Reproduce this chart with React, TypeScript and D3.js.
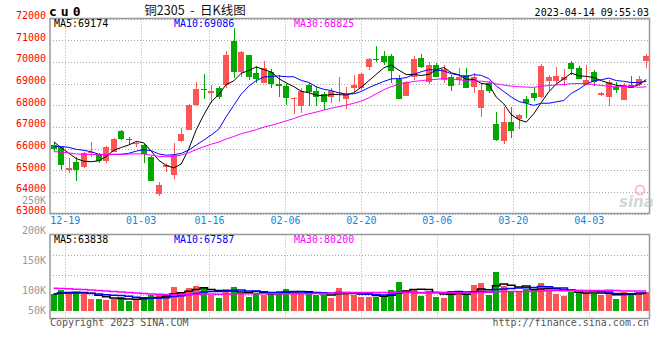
import React from 'react';
import * as d3 from 'd3';

// ---------- data ----------
const dates = [
  '12-15','12-16','12-19','12-20','12-21','12-22','12-23','12-26','12-27','12-28','12-29','12-30',
  '01-03','01-04','01-05','01-06','01-09','01-10','01-11','01-12','01-13','01-16','01-17','01-18','01-19','01-20','01-30','01-31',
  '02-01','02-02','02-03','02-06','02-07','02-08','02-09','02-10','02-13','02-14','02-15','02-16','02-17','02-20','02-21','02-22','02-23','02-24','02-27','02-28',
  '03-01','03-02','03-03','03-06','03-07','03-08','03-09','03-10','03-13','03-14','03-15','03-16','03-17','03-20','03-21','03-22','03-23','03-24','03-27','03-28','03-29','03-30','03-31',
  '04-03','04-04','04-06','04-07','04-10','04-11','04-12','04-13','04-14'
];
const tickDates = ['12-19','01-03','01-16','02-06','02-20','03-06','03-20','04-03'];

const opens = [
  66150,66050,65010,65400,65160,65780,65750,65440,65850,66820,66460,66190,66160,65590,63900,65160,64800,66350,66850,68000,
  68730,68550,68770,68930,70960,69540,70320,69500,69040,69540,69000,68880,68290,67960,68930,68670,68520,68360,68570,68280,
  68810,68780,69770,70140,70270,70270,69190,68420,69290,70190,69080,69850,69160,69310,69160,69390,68850,67890,69010,67130,
  66340,67240,67360,68280,68580,68360,69110,69110,69160,69960,69700,68950,69520,68470,68390,68850,68240,68930,68930,70060
];
const highs = [
  66300,66080,65560,65620,65850,66290,65800,66130,66500,66850,66520,66310,66200,65650,64440,65320,66240,66930,68050,69080,
  69440,68930,68880,70510,71550,70480,70320,69790,70040,69650,69390,69000,68390,68780,69010,68880,68620,68780,69290,68850,
  69390,69490,70200,70730,70500,70350,69390,69100,70250,70350,70000,69960,69850,69390,69700,69700,69470,69010,69100,67670,
  67930,67930,67600,68420,68780,69890,69390,69740,69670,70040,69810,69850,69630,68600,69180,69080,69010,69340,69340,70350
];
const lows = [
  65900,65000,64870,64520,65110,65620,65320,65320,65830,66400,66160,66080,65320,64510,63820,64930,64590,66290,66850,67950,
  68290,68090,68270,68780,69240,69310,69160,69010,69010,68800,68360,68020,67570,67650,67960,67960,67780,68090,68160,67810,
  68620,68700,69620,70010,69850,69040,68280,68420,69180,69720,68990,69290,69040,68670,68930,68770,68540,67470,68540,66350,
  66220,66470,66910,67390,68190,68320,68650,68960,68880,69390,69190,68930,68880,68420,67960,68540,68240,68770,68880,69700
];
const closes = [
  65960,65230,65100,65000,65780,65850,65440,66085,66440,66420,66420,66270,65750,64510,64320,65240,65700,66650,68010,68730,
  68680,68670,68390,70320,69540,70440,69310,69210,69700,69000,68900,68340,68340,68650,68620,68390,68160,68650,68620,68520,
  68930,69440,70120,70100,70010,69590,68280,69080,70130,69770,69850,69310,69650,68900,69310,68800,69310,68700,68670,66390,
  67240,66810,67550,68090,68320,69820,69290,69350,69290,69650,69190,69160,69080,68580,69080,68700,68930,68810,69210,70270
];
const volumes = [
  72700,91500,82800,78500,72700,52300,52300,48000,52300,59600,43600,48000,56700,69700,69700,69700,104600,79900,100300,109000,
  104600,69700,56700,95900,104600,78500,61000,78500,69700,78500,87200,95900,82800,74100,74100,69700,69700,56700,100300,78500,
  69700,61000,61000,61000,61000,91500,126400,91500,91500,65400,87200,61000,56700,87200,82800,69700,113300,122100,69700,170000,
  109000,82800,82800,95900,91500,122100,95900,74100,65400,82800,82800,78500,74100,69700,74100,52300,82800,78500,82800,82800
];
// estimated sessions before the visible window (needed for the moving averages at the left edge)
const priorCloses = [
  65800,66200,66500,66300,66000,65700,65900,66200,66400,66100,65900,66000,66150,65950,65750,
  65200,64900,64600,64550,64700,65100,65500,65900,66250,66500,66600,66350,66250,66390
];
const priorVolumes = [
  125000,118000,130000,112000,121000,115000,128000,110000,119000,124000,113000,117000,122000,116000,115000,
  88000,80000,85000,79000,83000,76000,72000,78000,70000,74000,77000,71000,75000,74350
];

const priceTicks = [63000,64000,65000,66000,67000,68000,69000,70000,71000,72000];
const volTickLabels = [250000,200000,150000,100000,50000];
const maPeriods = [5,10,30];
const maColors = ['#000000','#0000ff','#ff00ff'];
const priceMaText = ['69174','69086','68825'];
const volMaText = ['63838','67587','80200'];

const titleText = '铜2305\u00a0\u00a0-\u00a0\u00a0日K线图';
const symbolText = 'cu0';
const timeText = '2023-04-14 09:55:03';

function movingAverage(series: number[], prior: number[], n: number): number[] {
  const all = prior.concat(series);
  return series.map((_, i) => {
    const end = prior.length + i + 1;
    return d3.mean(all.slice(end - n, end)) as number;
  });
}

const MONO = '"DejaVu Sans Mono", "Liberation Mono", monospace';

export default function App() {
  const W = 660, H = 360;
  const left = 50, right = 649.5;
  const pTop = 18.5, pBottom = 213.5;
  const vTop = 234.5, vBottom = 318.5;

  const xBand = d3.scaleBand<string>().domain(dates).range([50, 650]).paddingInner(0.25).paddingOuter(0.125);
  const xGrid = d3.scalePoint<string>().domain(dates).range([50, 650]);
  const bw = xBand.bandwidth();
  const cx = (d: string) => (xBand(d) as number) + bw / 2;

  const yP = d3.scaleLinear().domain([63000, 72000]).range([pBottom, pTop]);
  const yV = d3.scaleLinear().domain([0, 333000]).range([310.7, 234.3]);
  const volLabelY = d3.scaleLinear().domain([50000, 250000]).range([324, 204]);

  const priceMAs = maPeriods.map(n => movingAverage(closes, priorCloses, n));
  const volMAs = maPeriods.map(n => movingAverage(volumes, priorVolumes, n));

  const priceLine = d3.line<number>().x((_, i) => cx(dates[i])).y(v => yP(v));
  const volLine = d3.line<number>().x((_, i) => cx(dates[i])).y(v => yV(v)).curve(d3.curveStep);

  const up = (i: number) => closes[i] >= opens[i];
  const RED = '#ff5454';
  const GREEN = '#00a800';
  const gridColor = '#a8a8a8';
  const volGridY = [255.5, 275.5, 295.5];

  return (
    <svg width={W} height={H} viewBox={`0 0 ${W} ${H}`}
      style={{ position: 'absolute', left: 0, top: 0, background: '#fff' }}>
      <rect x={0} y={0} width={W} height={H} fill="#fff" />

      {/* price gridlines */}
      {priceTicks.map(t => (
        <line key={'hp' + t} x1={left} x2={right} y1={Math.round(yP(t)) + 0.5} y2={Math.round(yP(t)) + 0.5}
          stroke={gridColor} strokeDasharray="1,2" />
      ))}
      {tickDates.map(d => (
        <line key={'vp' + d} x1={Math.round(xGrid(d) as number) + 0.5} x2={Math.round(xGrid(d) as number) + 0.5}
          y1={pTop} y2={pBottom} stroke={gridColor} strokeDasharray="1,2" />
      ))}
      {/* volume gridlines */}
      {volGridY.map(y => (
        <line key={'hv' + y} x1={left} x2={right} y1={y} y2={y} stroke={gridColor} strokeDasharray="1,2" />
      ))}
      {tickDates.map(d => (
        <line key={'vv' + d} x1={Math.round(xGrid(d) as number) + 0.5} x2={Math.round(xGrid(d) as number) + 0.5}
          y1={vTop} y2={vBottom} stroke={gridColor} strokeDasharray="1,2" />
      ))}

      {/* candles */}
      {dates.map((d, i) => {
        const c = up(i) ? RED : GREEN;
        const x0 = xBand(d) as number;
        const yTop = yP(Math.max(opens[i], closes[i]));
        const yBot = yP(Math.min(opens[i], closes[i]));
        return (
          <g key={'c' + d} shapeRendering="crispEdges">
            <line x1={Math.round(cx(d)) + 0.5} x2={Math.round(cx(d)) + 0.5} y1={yP(highs[i])} y2={yP(lows[i])} stroke={c} />
            <rect x={x0} y={yTop} width={bw} height={Math.max(1, yBot - yTop)} fill={c} />
          </g>
        );
      })}

      {/* volume bars */}
      {dates.map((d, i) => (
        <rect key={'v' + d} x={xBand(d) as number} y={yV(volumes[i])} width={bw}
          height={yV(0) - yV(volumes[i])} fill={up(i) ? RED : GREEN} shapeRendering="crispEdges" />
      ))}

      {/* MA lines */}
      {priceMAs.map((ma, k) => (
        <path key={'pma' + k} d={priceLine(ma) as string} fill="none" stroke={maColors[k]} strokeWidth={1} />
      ))}
      {volMAs.map((ma, k) => (
        <path key={'vma' + k} d={volLine(ma) as string} fill="none" stroke={maColors[k]} strokeWidth={1.5} />
      ))}

      {/* frames */}
      <rect x={left} y={pTop} width={right - left} height={pBottom - pTop} fill="none" stroke="#999" strokeWidth={1.5} />
      <rect x={left} y={vTop} width={right - left} height={vBottom - vTop} fill="none" stroke="#999" strokeWidth={1.5} />

      {/* price axis labels */}
      {priceTicks.map(t => (
        <text key={'pl' + t} x={46} y={yP(t) + 0.5} textAnchor="end" fontFamily={MONO} fontSize={10} fill="#ff0000">{t}</text>
      ))}
      {/* volume axis labels */}
      {volTickLabels.map(v => (
        <text key={'vl' + v} x={46} y={Math.min(volLabelY(v), 314)} textAnchor="end" fontFamily={MONO} fontSize={10} fill="#999">
          {v / 1000 + 'K'}
        </text>
      ))}
      {/* date labels */}
      {tickDates.map(d => (
        <text key={'dl' + d} x={xGrid(d) as number} y={224} textAnchor="middle" fontFamily={MONO} fontSize={10} fill="#0a88dd">{d}</text>
      ))}

      {/* header */}
      <text x={49} y={15.5} fontFamily={MONO} fontSize={13} fontWeight="bold" letterSpacing={4} fill="#000">{symbolText}</text>
      <text x={195} y={15} textAnchor="middle" fontFamily='"Noto Sans CJK SC", sans-serif' fontSize={12.5} fill="#111">{titleText}</text>
      <text x={649} y={15.5} textAnchor="end" fontFamily={MONO} fontSize={10} fill="#000">{timeText}</text>

      {/* MA legends */}
      {maPeriods.map((n, k) => (
        <text key={'pml' + n} x={54 + k * 120} y={27} fontFamily={MONO} fontSize={10} fill={maColors[k]}>
          {`MA${n}:${priceMaText[k]}`}
        </text>
      ))}
      {maPeriods.map((n, k) => (
        <text key={'vml' + n} x={54 + k * 120} y={242.5} fontFamily={MONO} fontSize={10} fill={maColors[k]}>
          {`MA${n}:${volMaText[k]}`}
        </text>
      ))}

      {/* watermark */}
      <g opacity={0.6}>
        <circle cx={640} cy={190} r={4.5} fill="none" stroke="#f08080" strokeWidth={1.5} />
        <text x={619} y={207} fontFamily='"DejaVu Sans", sans-serif' fontSize={15} fontStyle="italic" fontWeight="bold" fill="#bbb">sina</text>
      </g>

      {/* footer */}
      <text x={50} y={326} fontFamily={MONO} fontSize={10} fill="#555">Copyright 2023 SINA.COM</text>
      <text x={649} y={326} textAnchor="end" fontFamily={MONO} fontSize={10} fill="#555">http://finance.sina.com.cn</text>
    </svg>
  );
}
